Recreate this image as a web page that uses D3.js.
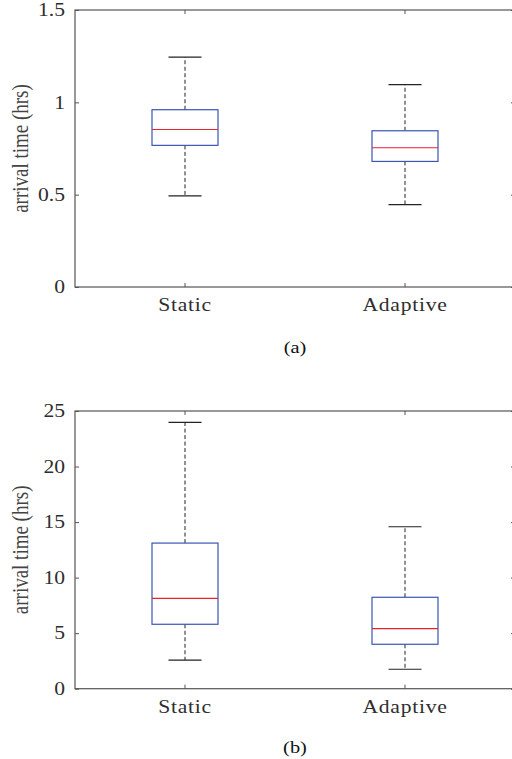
<!DOCTYPE html>
<html>
<head>
<meta charset="utf-8">
<script src="https://cdn.jsdelivr.net/npm/d3@7"></script>
<style>
  body { margin: 0; background: #fff; }
  svg { display: block; }
  text { font-family: "Liberation Serif", "Times New Roman", serif; fill: #2e2e2e; }
</style>
</head>
<body>
<svg id="chart" width="512" height="759"></svg>
<script>
// categories and box stats
const categories = ['Static', 'Adaptive'];

// panel (a)
const aLow    = [0.493, 0.446];
const aQ1     = [0.767, 0.680];
const aMedian = [0.853, 0.754];
const aQ3     = [0.960, 0.846];
const aHigh   = [1.245, 1.096];
const aTicks  = [0, 0.5, 1, 1.5];
const aTickLabels = ['0', '0.5', '1', '1.5'];

// panel (b)
const bLow    = [2.58, 1.75];
const bQ1     = [5.80, 4.00];
const bMedian = [8.14, 5.40];
const bQ3     = [13.11, 8.23];
const bHigh   = [23.98, 14.58];
const bTicks  = [0, 5, 10, 15, 20, 25];
const bTickLabels = ['0', '5', '10', '15', '20', '25'];

const ylabel = 'arrival time (hrs)';
const sx = 1.2;   // the picture is stretched sideways, text too

class BoxPanel {
    constructor(config, data) {
        this.config = config;
        this.data = data;
        this.init();
    }

    init() {
        let self = this;
        const c = self.config;
        self.svg = d3.select(c.parent);

        self.xscale = d3.scaleBand()
            .domain(categories)
            .range([c.left, c.right])
            .paddingInner(0)
            .paddingOuter(0);

        self.yscale = d3.scaleLinear()
            .domain(c.domain)
            .range([c.bottom, c.top]);

        self.render();
    }

    render() {
        let self = this;
        const c = self.config;
        const x = self.xscale, y = self.yscale;
        const g = self.svg.append('g');
        const axisColor = '#555';

        // frame
        g.append('rect')
            .attr('x', c.left).attr('y', c.top)
            .attr('width', c.right - c.left).attr('height', c.bottom - c.top)
            .attr('fill', 'none').attr('stroke', axisColor).attr('stroke-width', 1.2);

        // y axis, ticks pointing inside
        const yaxis = d3.axisLeft(y)
            .tickValues(c.ticks)
            .tickFormat((d, i) => c.tickLabels[i])
            .tickSizeInner(-4)
            .tickSizeOuter(0)
            .tickPadding(10);
        const yg = g.append('g')
            .attr('transform', `translate(${c.left},0)`)
            .call(yaxis);
        yg.select('.domain').remove();
        yg.selectAll('line').attr('stroke', axisColor);
        yg.selectAll('text')
            .attr('x', -10 / sx)
            .attr('transform', `scale(${sx},1)`)
            .style('font-size', '18px')
            .style('fill', '#2e2e2e');

        // right side ticks
        const yaxisR = d3.axisRight(y)
            .tickValues(c.ticks)
            .tickFormat('')
            .tickSizeInner(-4)
            .tickSizeOuter(0);
        const yr = g.append('g')
            .attr('transform', `translate(${c.right},0)`)
            .call(yaxisR);
        yr.select('.domain').remove();
        yr.selectAll('line').attr('stroke', axisColor);

        // x axis
        const xaxis = d3.axisBottom(x)
            .tickSizeInner(-4)
            .tickSizeOuter(0)
            .tickPadding(0);
        const xg = g.append('g')
            .attr('transform', `translate(0,${c.bottom})`)
            .call(xaxis);
        xg.select('.domain').remove();
        xg.selectAll('line').attr('stroke', axisColor);
        xg.selectAll('text')
            .attr('y', 24).attr('dy', null)
            .attr('transform', `scale(${sx},1)`)
            .style('font-size', '18px')
            .style('letter-spacing', '0.6px')
            .style('fill', '#2e2e2e');

        // top ticks
        const xaxisT = d3.axisTop(x).tickFormat('').tickSizeInner(-4).tickSizeOuter(0);
        const xt = g.append('g')
            .attr('transform', `translate(0,${c.top})`)
            .call(xaxisT);
        xt.select('.domain').remove();
        xt.selectAll('line').attr('stroke', axisColor);

        const bw = x.bandwidth() * 0.3;
        const cw = x.bandwidth() * 0.15;
        const cx = d => x(d.cat) + x.bandwidth() / 2;

        const boxes = g.append('g').selectAll('.box')
            .data(self.data)
            .join('g')
            .attr('class', 'box');

        // dashed whiskers
        boxes.append('line')
            .attr('x1', cx).attr('x2', cx)
            .attr('y1', d => y(d.q3)).attr('y2', d => y(d.high))
            .attr('stroke', '#222').attr('stroke-dasharray', '4,2.5').attr('stroke-width', 1);
        boxes.append('line')
            .attr('x1', cx).attr('x2', cx)
            .attr('y1', d => y(d.q1)).attr('y2', d => y(d.low))
            .attr('stroke', '#222').attr('stroke-dasharray', '4,2.5').attr('stroke-width', 1);

        // caps
        boxes.append('line')
            .attr('x1', d => cx(d) - cw / 2).attr('x2', d => cx(d) + cw / 2)
            .attr('y1', d => y(d.high)).attr('y2', d => y(d.high))
            .attr('stroke', '#222').attr('stroke-width', 1.2);
        boxes.append('line')
            .attr('x1', d => cx(d) - cw / 2).attr('x2', d => cx(d) + cw / 2)
            .attr('y1', d => y(d.low)).attr('y2', d => y(d.low))
            .attr('stroke', '#222').attr('stroke-width', 1.2);

        // box
        boxes.append('rect')
            .attr('x', d => cx(d) - bw / 2)
            .attr('y', d => y(d.q3))
            .attr('width', bw)
            .attr('height', d => y(d.q1) - y(d.q3))
            .attr('fill', 'none')
            .attr('stroke', '#3a55b4')
            .attr('stroke-width', 1.2);

        // median
        boxes.append('line')
            .attr('x1', d => cx(d) - bw / 2).attr('x2', d => cx(d) + bw / 2)
            .attr('y1', d => y(d.median)).attr('y2', d => y(d.median))
            .attr('stroke', '#e8232a').attr('stroke-width', 1.2);

        // y label
        const lx = 28, ly = (c.top + c.bottom) / 2;
        g.append('text')
            .attr('transform', `translate(${lx},${ly}) rotate(-90) scale(1,${sx})`)
            .attr('text-anchor', 'middle')
            .style('font-size', '19px')
            .style('fill', '#444')
            .text(ylabel);

        // caption
        g.append('text')
            .attr('transform', `translate(${(c.left + c.right) / 2},${c.caption}) scale(${sx},1)`)
            .attr('text-anchor', 'middle')
            .style('font-size', '17px')
            .style('fill', '#111')
            .text(c.captionText);
    }
}

function rows(low, q1, med, q3, high) {
    return categories.map((cat, i) => ({cat, low: low[i], q1: q1[i], median: med[i], q3: q3[i], high: high[i]}));
}

new BoxPanel({
    parent: '#chart', left: 75, right: 515, top: 10, bottom: 287,
    domain: [0, 1.5], ticks: aTicks, tickLabels: aTickLabels,
    caption: 353, captionText: '(a)'
}, rows(aLow, aQ1, aMedian, aQ3, aHigh));

new BoxPanel({
    parent: '#chart', left: 75, right: 515, top: 411, bottom: 688.7,
    domain: [0, 25], ticks: bTicks, tickLabels: bTickLabels,
    caption: 753, captionText: '(b)'
}, rows(bLow, bQ1, bMedian, bQ3, bHigh));
</script>
</body>
</html>
